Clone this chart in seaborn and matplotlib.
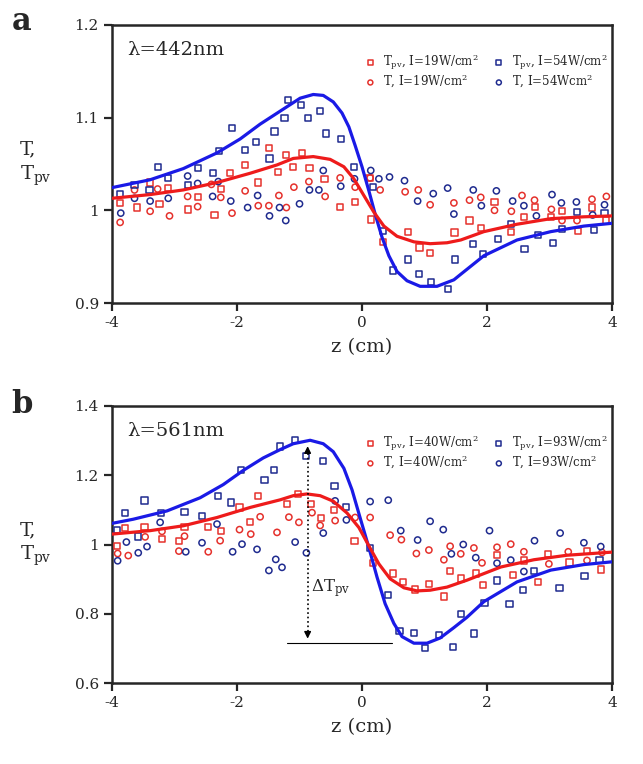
import matplotlib
matplotlib.use("Agg")
import matplotlib.pyplot as plt
import seaborn as sns

# ---------------- panel a : lambda = 442 nm ----------------
z_a_tpv19 = [-3.87, -3.60, -3.39, -3.24, -3.11, -2.79, -2.63, -2.36, -2.26, -2.11, -1.87, -1.67, -1.49,
             -1.35, -1.21, -1.11, -0.96, -0.84, -0.60, -0.35, -0.11, 0.12, 0.14, 0.34, 0.73, 0.92, 1.09,
             1.48, 1.72, 1.90, 2.12, 2.38, 2.59, 2.77, 3.03, 3.20, 3.45, 3.68, 3.90]
t_a_tpv19 = [1.008, 1.003, 1.030, 1.007, 1.024, 1.001, 1.014, 0.995, 1.023, 1.040, 1.049, 1.030, 1.067,
             1.041, 1.060, 1.047, 1.062, 1.046, 1.034, 1.004, 1.009, 1.035, 0.990, 0.966, 0.977, 0.960, 0.954,
             0.976, 0.989, 0.981, 1.009, 0.977, 0.993, 1.004, 0.993, 0.999, 0.978, 1.003, 0.989]

z_a_t19 = [-3.87, -3.64, -3.39, -3.27, -3.08, -2.79, -2.63, -2.41, -2.26, -2.08, -1.87, -1.66, -1.49,
           -1.33, -1.21, -1.09, -0.85, -0.59, -0.35, -0.11, 0.13, 0.29, 0.69, 0.90, 1.09, 1.47, 1.72,
           1.90, 2.12, 2.39, 2.56, 2.76, 3.03, 3.20, 3.44, 3.68, 3.91]
t_a_t19 = [0.987, 1.022, 0.999, 1.023, 0.994, 1.015, 1.004, 1.028, 1.014, 0.997, 1.021, 1.005, 1.005,
           1.016, 1.003, 1.025, 1.031, 1.015, 1.035, 1.025, 1.035, 1.022, 1.020, 1.022, 1.006, 1.008, 1.011,
           1.014, 1.000, 0.999, 1.016, 1.011, 1.001, 0.989, 0.989, 1.012, 1.015]

z_a_tpv54 = [-3.87, -3.64, -3.40, -3.26, -3.11, -2.79, -2.63, -2.38, -2.29, -2.08, -1.87, -1.69, -1.48,
             -1.40, -1.24, -1.19, -0.98, -0.87, -0.67, -0.58, -0.34, -0.13, 0.17, 0.34, 0.50, 0.73, 0.91,
             1.11, 1.38, 1.49, 1.78, 1.94, 2.18, 2.38, 2.60, 2.81, 3.06, 3.20, 3.44, 3.71, 3.88]
t_a_tpv54 = [1.018, 1.027, 1.022, 1.047, 1.035, 1.027, 1.046, 1.040, 1.064, 1.089, 1.065, 1.074, 1.056,
             1.085, 1.100, 1.119, 1.114, 1.100, 1.107, 1.083, 1.077, 1.047, 1.025, 0.978, 0.935, 0.947, 0.931,
             0.923, 0.915, 0.947, 0.964, 0.953, 0.969, 0.985, 0.958, 0.973, 0.965, 0.980, 0.998, 0.979, 0.997]

z_a_t54 = [-3.86, -3.64, -3.39, -3.10, -2.79, -2.63, -2.39, -2.30, -2.10, -1.83, -1.67, -1.48, -1.32,
           -1.22, -1.00, -0.84, -0.69, -0.62, -0.34, -0.12, 0.14, 0.27, 0.44, 0.68, 0.89, 1.14, 1.37,
           1.47, 1.78, 1.91, 2.15, 2.41, 2.59, 2.79, 3.04, 3.19, 3.43, 3.69, 3.88]
t_a_t54 = [0.997, 1.013, 1.010, 1.013, 1.037, 1.029, 1.015, 1.031, 1.010, 1.003, 1.016, 0.994, 1.003,
           0.989, 1.007, 1.022, 1.022, 1.043, 1.026, 1.034, 1.043, 1.034, 1.036, 1.032, 1.010, 1.018, 1.024,
           0.996, 1.022, 1.005, 1.021, 1.010, 1.005, 0.994, 1.017, 1.008, 1.009, 0.995, 1.006]

# fitted curves
z_a_fit54 = [-4.0, -3.39, -2.86, -2.32, -1.95, -1.63, -1.31, -1.15, -0.99, -0.78, -0.62, -0.46, -0.32,
             -0.21, -0.11, 0.0, 0.11, 0.21, 0.32, 0.43, 0.56, 0.72, 0.93, 1.20, 1.47, 1.58, 1.95, 2.48,
             3.02, 3.55, 4.0]
t_a_fit54 = [1.0245, 1.033, 1.045, 1.062, 1.077, 1.093, 1.107, 1.114, 1.121, 1.125, 1.124, 1.117, 1.105,
             1.090, 1.070, 1.047, 1.021, 0.996, 0.971, 0.951, 0.934, 0.924, 0.918, 0.918, 0.925, 0.931,
             0.951, 0.968, 0.977, 0.983, 0.986]
z_a_fit19 = [-4.0, -3.39, -2.86, -2.32, -1.79, -1.36, -1.10, -0.78, -0.51, -0.29, -0.13, 0.03, 0.19,
             0.35, 0.56, 0.83, 1.09, 1.36, 1.58, 1.95, 2.48, 3.02, 3.55, 4.0]
t_a_fit19 = [1.013, 1.017, 1.022, 1.030, 1.040, 1.049, 1.056, 1.058, 1.055, 1.047, 1.034, 1.016, 0.998,
             0.983, 0.972, 0.966, 0.964, 0.965, 0.968, 0.977, 0.985, 0.991, 0.993, 0.994]

# ---------------- panel b : lambda = 561 nm ----------------
z_b_tpv40 = [-3.92, -3.79, -3.48, -3.20, -2.93, -2.84, -2.47, -2.26, -1.96, -1.79, -1.66, -1.20, -1.02,
             -0.82, -0.66, -0.45, -0.12, 0.17, 0.49, 0.65, 0.85, 1.07, 1.31, 1.41, 1.58, 1.83, 1.93,
             2.16, 2.41, 2.59, 2.81, 2.97, 3.32, 3.60, 3.83]
t_b_tpv40 = [0.996, 1.048, 1.050, 1.016, 1.010, 1.050, 1.051, 1.038, 1.107, 1.064, 1.140, 1.116, 1.145,
             1.116, 1.076, 1.099, 1.010, 0.947, 0.916, 0.891, 0.870, 0.887, 0.850, 0.924, 0.902, 0.916, 0.883,
             0.969, 0.912, 0.954, 0.892, 0.973, 0.948, 0.981, 0.928]

z_b_t40 = [-3.91, -3.74, -3.47, -3.20, -2.93, -2.84, -2.46, -2.27, -1.96, -1.78, -1.63, -1.36, -1.17,
           -1.01, -0.80, -0.67, -0.43, -0.11, 0.13, 0.45, 0.63, 0.87, 1.07, 1.31, 1.41, 1.58, 1.79,
           1.92, 2.16, 2.38, 2.59, 2.99, 3.30, 3.60, 3.84]
t_b_t40 = [0.974, 0.968, 1.022, 1.038, 0.981, 1.024, 0.979, 1.011, 1.043, 1.030, 1.080, 1.035, 1.079,
           1.064, 1.092, 1.055, 1.069, 1.078, 1.078, 1.027, 1.014, 0.974, 0.984, 0.956, 0.995, 0.973, 0.990,
           0.947, 0.992, 1.001, 0.979, 0.944, 0.979, 0.954, 0.977]

z_b_tpv93 = [-3.92, -3.79, -3.58, -3.48, -3.22, -2.84, -2.56, -2.31, -2.10, -1.94, -1.56, -1.41, -1.31,
             -1.07, -0.90, -0.63, -0.44, -0.25, 0.13, 0.41, 0.60, 0.83, 1.01, 1.23, 1.45, 1.59, 1.79,
             1.96, 2.16, 2.36, 2.57, 2.75, 3.16, 3.56, 3.80]
t_b_tpv93 = [1.042, 1.090, 1.023, 1.127, 1.092, 1.095, 1.083, 1.140, 1.121, 1.216, 1.186, 1.216, 1.283,
             1.301, 1.256, 1.242, 1.170, 1.108, 0.990, 0.854, 0.750, 0.745, 0.702, 0.738, 0.705, 0.799, 0.743,
             0.830, 0.896, 0.828, 0.869, 0.924, 0.875, 0.909, 0.956]

z_b_t93 = [-3.91, -3.77, -3.58, -3.44, -3.23, -2.82, -2.56, -2.32, -2.07, -1.92, -1.68, -1.49, -1.38,
           -1.28, -1.07, -0.89, -0.62, -0.43, -0.25, 0.13, 0.42, 0.62, 0.89, 1.09, 1.30, 1.43, 1.62,
           1.82, 2.04, 2.16, 2.38, 2.59, 2.76, 3.17, 3.55, 3.82]
t_b_t93 = [0.953, 1.007, 0.976, 0.994, 1.064, 0.979, 1.005, 1.059, 0.979, 1.001, 0.986, 0.925, 0.957,
           0.934, 1.007, 0.976, 1.033, 1.126, 1.071, 1.124, 1.128, 1.040, 1.013, 1.067, 1.043, 0.973, 1.000,
           0.962, 1.040, 0.946, 0.955, 0.922, 1.011, 1.033, 1.005, 0.994]

z_b_fit93 = [-4.0, -3.66, -3.12, -2.59, -2.22, -1.90, -1.58, -1.31, -1.10, -0.83, -0.62, -0.46, -0.29,
             -0.16, -0.03, 0.11, 0.24, 0.37, 0.51, 0.64, 0.83, 1.04, 1.25, 1.47, 1.68, 1.95, 2.48, 3.02,
             3.55, 4.0]
t_b_fit93 = [1.061, 1.073, 1.097, 1.135, 1.173, 1.214, 1.250, 1.274, 1.291, 1.301, 1.291, 1.268, 1.220,
             1.158, 1.077, 0.991, 0.906, 0.829, 0.772, 0.734, 0.715, 0.715, 0.730, 0.760, 0.790, 0.835,
             0.892, 0.926, 0.942, 0.950]
z_b_fit40 = [-4.0, -3.39, -2.86, -2.32, -1.79, -1.31, -1.10, -0.88, -0.67, -0.46, -0.24, -0.05, 0.11,
             0.27, 0.45, 0.67, 0.88, 1.09, 1.36, 1.68, 2.22, 2.75, 3.28, 4.0]
t_b_fit40 = [1.030, 1.040, 1.054, 1.078, 1.107, 1.129, 1.141, 1.146, 1.141, 1.125, 1.091, 1.049, 0.996,
             0.944, 0.901, 0.875, 0.866, 0.868, 0.877, 0.897, 0.935, 0.956, 0.969, 0.978]

x_ticks = [-4, -2, 0, 2, 4]
x_ticklabels = ['-4', '-2', '0', '2', '4']
y_ticks_a = [0.9, 1.0, 1.1, 1.2]
y_ticklabels_a = ['0.9', '1', '1.1', '1.2']
y_ticks_b = [0.6, 0.8, 1.0, 1.2, 1.4]
y_ticklabels_b = ['0.6', '0.8', '1', '1.2', '1.4']

RED_PT = '#e5312c'
BLUE_PT = '#1f2b8f'
RED_LN = '#ee1b1b'
BLUE_LN = '#1a1ae6'

sns.set_style("ticks")
plt.rcParams['font.family'] = ['DejaVu Serif']
plt.rcParams['mathtext.fontset'] = 'dejavuserif'


def draw_panel(ax, pts, fits, ylim, yticks, yticklabels, lam_text):
    for z, t, marker, col, lab in pts:
        sns.scatterplot(x=z, y=t, ax=ax, marker=marker, s=20, facecolor='none',
                        edgecolor=col, linewidth=1.1, label=lab, zorder=3)
    for z, t, col in fits:
        sns.lineplot(x=z, y=t, ax=ax, color=col, linewidth=2.3, zorder=4,
                     solid_joinstyle='round', solid_capstyle='round')

    ax.set_xlim(-4, 4)
    ax.set_ylim(*ylim)
    ax.set_xticks(x_ticks)
    ax.set_xticklabels(x_ticklabels)
    ax.set_yticks(yticks)
    ax.set_yticklabels(yticklabels)
    ax.tick_params(direction='out', length=6, width=1.6, labelsize=11)
    for sp in ax.spines.values():
        sp.set_linewidth(1.8)
        sp.set_visible(True)
    ax.set_xlabel('z (cm)', fontsize=14, labelpad=6)
    ax.set_ylabel('')
    ax.text(-0.185, 0.5, 'T,\nT$_{\\rm pv}$', transform=ax.transAxes, fontsize=14,
            ha='left', va='center', linespacing=1.3)
    ax.text(0.03, 0.91, lam_text, transform=ax.transAxes, fontsize=14, ha='left', va='center')

    handles, labels = ax.get_legend_handles_labels()
    ax.legend(handles[:4], labels[:4], ncol=2, loc='upper right', bbox_to_anchor=(1.0, 0.92),
              frameon=False, fontsize=8.5, handletextpad=0.1, columnspacing=0.7,
              labelspacing=0.05, borderaxespad=0.0, markerscale=0.8)


fig = plt.figure(figsize=(6.43, 7.64), dpi=100)
ax_a = fig.add_axes([0.1742, 0.6034, 0.7776, 0.3639])
ax_b = fig.add_axes([0.1742, 0.1060, 0.7776, 0.3626])

draw_panel(ax_a,
           [(z_a_tpv19, t_a_tpv19, 's', RED_PT, 'T$_{\\rm pv}$, I=19W/cm$^2$'),
            (z_a_t19, t_a_t19, 'o', RED_PT, 'T, I=19W/cm$^2$'),
            (z_a_tpv54, t_a_tpv54, 's', BLUE_PT, 'T$_{\\rm pv}$, I=54W/cm$^2$'),
            (z_a_t54, t_a_t54, 'o', BLUE_PT, 'T, I=54Wcm$^2$')],
           [(z_a_fit54, t_a_fit54, BLUE_LN), (z_a_fit19, t_a_fit19, RED_LN)],
           (0.9, 1.2), y_ticks_a, y_ticklabels_a, 'λ=442nm')

draw_panel(ax_b,
           [(z_b_tpv40, t_b_tpv40, 's', RED_PT, 'T$_{\\rm pv}$, I=40W/cm$^2$'),
            (z_b_t40, t_b_t40, 'o', RED_PT, 'T, I=40W/cm$^2$'),
            (z_b_tpv93, t_b_tpv93, 's', BLUE_PT, 'T$_{\\rm pv}$, I=93W/cm$^2$'),
            (z_b_t93, t_b_t93, 'o', BLUE_PT, 'T, I=93W/cm$^2$')],
           [(z_b_fit93, t_b_fit93, BLUE_LN), (z_b_fit40, t_b_fit40, RED_LN)],
           (0.6, 1.4), y_ticks_b, y_ticklabels_b, 'λ=561nm')

# delta T_pv marker in panel b
z_arrow = -0.87
ax_b.vlines(z_arrow, 0.735, 1.27, colors='black', linestyles=':', linewidth=1.2, zorder=5)
ax_b.annotate('', xy=(z_arrow, 1.292), xytext=(z_arrow, 1.26),
              arrowprops=dict(arrowstyle='-|>', color='black', lw=1.0, mutation_scale=10))
ax_b.annotate('', xy=(z_arrow, 0.72), xytext=(z_arrow, 0.752),
              arrowprops=dict(arrowstyle='-|>', color='black', lw=1.0, mutation_scale=10))
ax_b.plot([-1.2, 0.48], [0.716, 0.716], color='black', linewidth=0.8)
ax_b.text(-0.82, 0.873, '$\\Delta$T$_{\\rm pv}$', fontsize=12, ha='left', va='center')

fig.text(0.018, 0.972, 'a', fontsize=22, fontweight='bold', ha='left', va='center')
fig.text(0.018, 0.470, 'b', fontsize=22, fontweight='bold', ha='left', va='center')

fig.savefig('out.png', dpi=100)
